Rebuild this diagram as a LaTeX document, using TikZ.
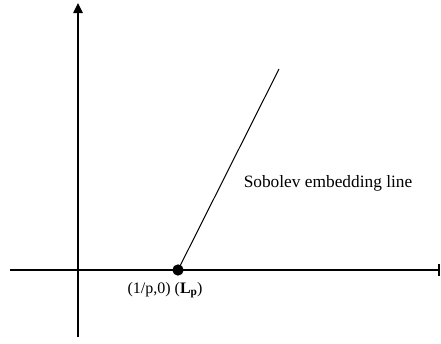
\documentclass[tikz,border=0pt]{standalone}
\usepackage{fontspec}
\setmainfont{Liberation Serif}
\usetikzlibrary{arrows.meta}
\begin{document}
\begin{tikzpicture}[x=0.75pt, y=-0.75pt, font=\fontsize{13}{15}\selectfont]
    \useasboundingbox (0,0) rectangle (441,343);
    % Nodes
    \coordinate (Ybot) at (78,337);
    \coordinate (Ytop) at (78,3);
    \coordinate (Xleft) at (10,270);
    \coordinate (Xright) at (439.5,270);
    \node[circle, fill, inner sep=0pt, minimum size=8.5pt] (P) at (178,270) {};
    \coordinate (Q) at (279,69);
    \node[font=\fontsize{12}{14}\selectfont] (Plabel) at (165,290) {(1/p,0) (\textbf{L}\raisebox{-0.35ex}{\fontsize{8.5}{10}\selectfont\textbf{p}})};
    \node (Slabel) at (328,183) {Sobolev embedding line};

    % Edges
    \draw[line width=1.1pt, -{Triangle[length=7.5pt, width=7pt]}] (Ybot) -- (Ytop);
    \draw[line width=1.1pt, -{Bar[width=9pt]}] (Xleft) -- (Xright);
    \draw[line width=0.75pt] (P.center) -- (Q);
\end{tikzpicture}
\end{document}
